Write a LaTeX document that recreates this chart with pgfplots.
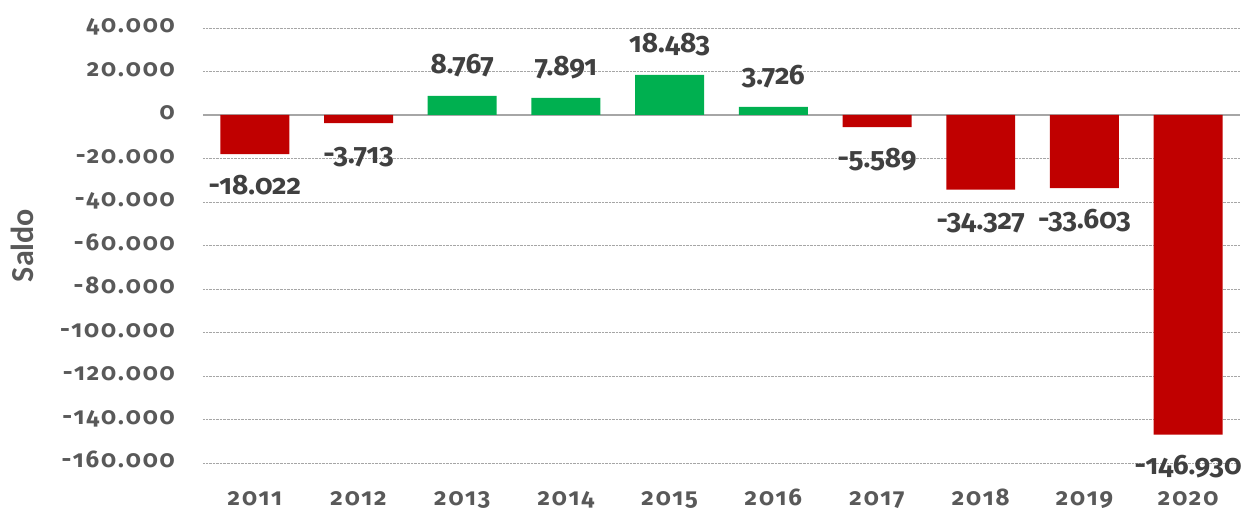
\documentclass[border=0pt]{standalone}
\usepackage{fontspec}
\setmainfont{Fira Sans}[Numbers=OldStyle]
\newfontfamily\tickfont{Fira Sans}[Numbers=OldStyle, LetterSpace=8]
\newfontfamily\ylabfont{Carlito}
\usepackage{pgfplots}
\pgfplotsset{compat=1.18}
\definecolor{barred}{HTML}{C00000}
\definecolor{bargreen}{HTML}{00B050}
\definecolor{tickgray}{HTML}{595959}
\definecolor{labgray}{HTML}{404040}
\definecolor{gridgray}{HTML}{A6A6A6}
\begin{document}
\begin{tikzpicture}
\begin{axis}[
  name=ax,
  scale only axis,
  width=1037bp, height=435bp,
  xmin=-0.5, xmax=9.5,
  ymin=-160000, ymax=40000,
  scaled y ticks=false,
  ybar, bar width=69bp,
  axis line style={draw=none},
  major tick length=0pt,
  xtick={0,...,9},
  xticklabels={2011,2012,2013,2014,2015,2016,2017,2018,2019,2020},
  ytick={-160000,-140000,-120000,-100000,-80000,-60000,-40000,-20000,0,20000,40000},
  yticklabels={-160.000,-140.000,-120.000,-100.000,-80.000,-60.000,-40.000,-20.000,0,20.000,40.000},
  ymajorgrids,
  major grid style={gridgray, densely dotted, line width=0.8bp},
  extra y ticks={0},
  extra y tick labels={},
  extra y tick style={grid=major, major grid style={solid, gridgray, line width=1.6bp}},
  xticklabel style={font=\tickfont\bfseries\fontsize{24bp}{28bp}\selectfont, text=tickgray, anchor=base, yshift=-43bp, inner sep=0pt},
  yticklabel style={font=\tickfont\bfseries\fontsize{24bp}{28bp}\selectfont, text=tickgray, anchor=mid east, xshift=-28bp, yshift=-2bp, inner sep=0pt},
  ylabel={Saldo},
  every axis y label/.style={at={(rel axis cs:0,0.5)}, xshift=-181bp, rotate=90, anchor=center, font=\ylabfont\bfseries\fontsize{32bp}{36bp}\selectfont, text=tickgray},
  point meta=explicit symbolic,
  nodes near coords,
  every node near coord/.style={font=\bfseries\fontsize{28bp}{32bp}\selectfont, text=labgray, inner sep=0pt},
  clip=false,
]
\addplot[fill=bargreen, draw=none, bar shift=0pt,
  every node near coord/.append style={anchor=base, yshift=22bp}]
  coordinates {(2,8767) [8.767] (3,7891) [7.891] (4,18483) [18.483] (5,3726) [3.726]};
\addplot[fill=barred, draw=none, bar shift=0pt,
  every node near coord/.append style={anchor=base, yshift=-40bp}]
  coordinates {(0,-18022) [-18.022] (1,-3713) [-3.713] (6,-5589) [-5.589] (7,-34327) [-34.327] (8,-33603) [-33.603] (9,-146930) [-146.930]};
\end{axis}
\pgfresetboundingbox
\path ([xshift=-203bp,yshift=-52bp]ax.south west) rectangle ([xshift=11bp,yshift=28bp]ax.north east);
\end{tikzpicture}
\end{document}
